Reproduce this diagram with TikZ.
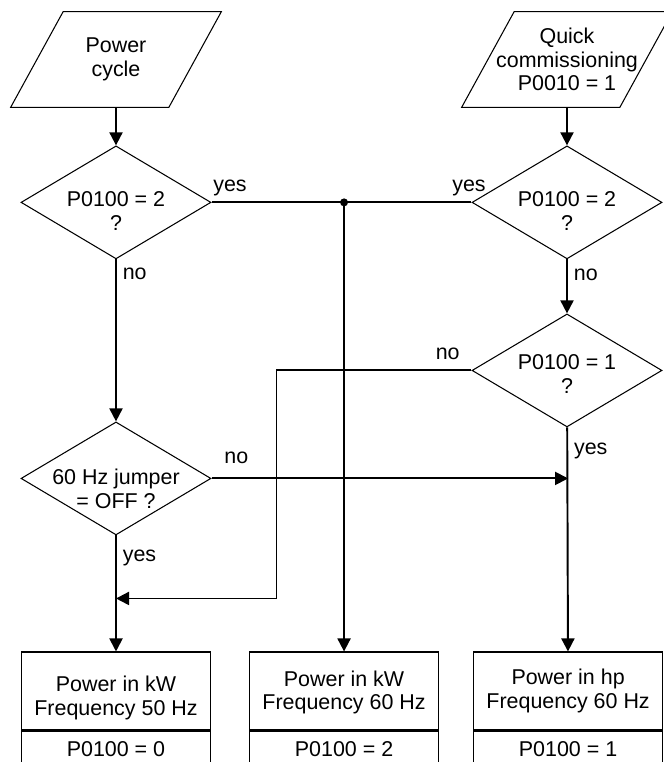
\documentclass[tikz,border=0pt]{standalone}
\usepackage{fontspec}
\setmainfont{Liberation Sans}
\usetikzlibrary{arrows.meta,positioning,shapes.geometric}

\newcommand{\chartfont}{\fontsize{12.2pt}{13.5pt}\selectfont}

\begin{document}
\begin{tikzpicture}[
      myio/.style={
         rectangle,
         align=center,
         minimum width=3.15cm,
         minimum height=1.9cm,
         font=\chartfont},
      mydiamond/.style={
         diamond,
         draw=black,
         line width=0.6pt,
         align=center,
         inner sep=-0.5cm,
         text height=32pt,
         minimum width=3.8cm,
         minimum height=2.26cm,
         font=\chartfont},
      mybox/.style={
         rectangle,
         draw=black,
         line width=0.6pt,
         align=center,
         text height=24pt,
         minimum width=3.78cm,
         minimum height=1.56cm,
         font=\chartfont},
      myvalue/.style={mybox, text height=, minimum height=0.72cm},
      myarrow/.style={-{Triangle[length=7.4pt,width=7.4pt]}, line width=1.1pt},
      myline/.style={line width=1.1pt},
      mylabel/.style={font=\chartfont, text depth=0.21em},
      node distance=0.76cm and 0.76cm
      ]
      \useasboundingbox (0,0) rectangle (13.28,-15.24);
      \clip (0,0) rectangle (13.28,-15.24);

      \node[myio] (pc) at (2.32,-1.19) {Power\\cycle};
      \node[myio] (qc) at (11.34,-1.19) {Quick\\commissioning\\P0010 = 1};

      \node[mydiamond, below = of pc] (pc2) {P0100 = 2\\?};
      \node[mydiamond, below = of qc] (qc2) {P0100 = 2\\?};
      \node[mydiamond, text height=26.5pt, below = 1.08cm of qc2] (qc1) {P0100 = 1\\?};
      \node[mydiamond, text height=34.5pt, below = 3.24cm of pc2] (jmp) {60 Hz jumper\\= OFF ?};

      \node[mybox, text height=30pt, below = 2.32cm of jmp] (kw50) {Power in kW\\Frequency 50 Hz};
      \node[mybox, right = of kw50] (kw60) {Power in kW\\Frequency 60 Hz};
      \node[mybox, text height=22pt, right = 0.68cm of kw60] (hp60) {Power in hp\\Frequency 60 Hz};
      \node[myvalue, below = 0pt of kw50] (kw50v) {P0100 = 0};
      \node[myvalue, below = 0pt of kw60] (kw60v) {P0100 = 2};
      \node[myvalue, below = 0pt of hp60] (hp60v) {P0100 = 1};

      \coordinate (split) at (kw60.north |- pc2.east);
      \coordinate[left = 3.9cm of qc1.west] (bend);
      \coordinate[above = 1.06cm of kw50.north] (join);
      \coordinate (meet) at (hp60.north |- jmp.east);

    \foreach \n in {pc,qc}
       \draw[line width=0.6pt] ([xshift=-0.525cm]\n.south west) -- ([xshift=-0.525cm]\n.south east)
          -- ([xshift=0.525cm]\n.north east) -- ([xshift=0.525cm]\n.north west) -- cycle;

\draw[myarrow] (pc) -- (pc2);
\draw[myarrow] (qc) -- (qc2);
%
\draw[myline] (pc2.east) node[mylabel, above right, xshift=-0.1cm] {yes} -- (qc2.west) node[mylabel, above left, xshift=0.42cm] {yes};
\fill (split) circle (0.08);
\draw[myarrow] (split) -- (kw60);
%
\draw[myarrow] (pc2) -- node[mylabel, right, pos=0.10] {no} (jmp);
\draw[myarrow] (qc2) -- node[mylabel, right, pos=0.31] {no} (qc1);
\draw[myarrow] (qc1.west) node[mylabel, above left, xshift=-0.1cm] {no} -- (bend) |- (join);
\draw[myarrow] (jmp.east) node[mylabel, above right, xshift=0.12cm, yshift=0.08cm] {no} -- (meet);
%
\draw[myarrow] (qc1) -- node[mylabel, right, pos=0.105] {yes} (hp60);
\draw[myarrow] (jmp) -- node[mylabel, right, pos=0.19] {yes} (kw50);

\end{tikzpicture}
\end{document}
